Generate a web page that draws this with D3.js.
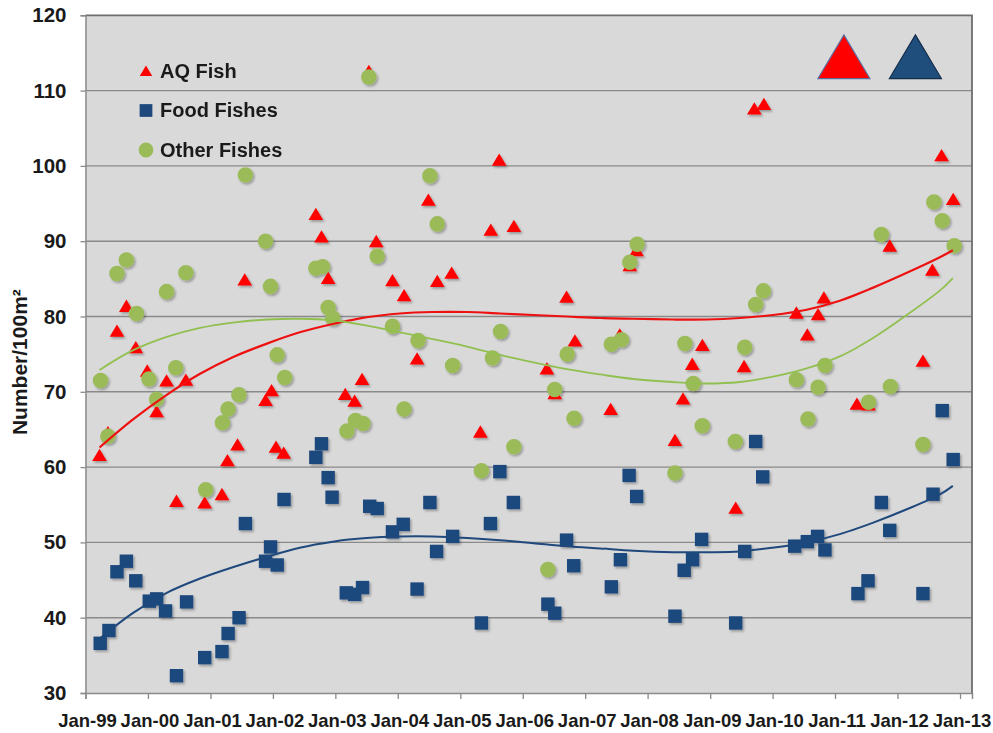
<!DOCTYPE html>
<html>
<head>
<meta charset="utf-8">
<script src="https://cdn.jsdelivr.net/npm/d3@7/dist/d3.min.js"></script>
<style>
  html, body { margin: 0; padding: 0; background: #ffffff; }
  svg { display: block; }
  text { font-family: "Liberation Sans", Arial, sans-serif; font-weight: bold; fill: #1a1a1a; }
</style>
</head>
<body>
<svg id="chart" width="993" height="733"></svg>
<script>
// ---------------- DATA ----------------
const seriesNames = ["AQ Fish", "Food Fishes", "Other Fishes"];

const aqDates = ["1999-03-24","1999-05-12","1999-07-04","1999-08-28","1999-10-22","1999-12-28","2000-02-21","2000-04-19","2000-06-16","2000-08-10","2000-11-28","2001-03-09","2001-04-10","2001-06-08","2001-07-20","2001-11-19","2001-12-24","2002-01-19","2002-03-05","2002-09-09","2002-10-12","2002-11-20","2003-02-28","2003-04-24","2003-06-06","2003-07-16","2003-08-28","2003-12-01","2004-02-07","2004-04-23","2004-06-28","2004-08-19","2004-11-11","2005-04-28","2005-06-28","2005-08-16","2005-11-10","2006-05-22","2006-07-07","2006-09-14","2006-11-02","2007-05-30","2007-07-22","2007-09-19","2007-10-28","2008-06-09","2008-07-26","2008-09-18","2008-11-16","2009-05-30","2009-07-18","2009-09-16","2009-11-11","2010-05-20","2010-07-23","2010-09-24","2010-10-28","2011-05-09","2011-07-16","2011-11-17","2012-05-29","2012-07-23","2012-09-15","2012-11-22"];
const aqValues = [61.6,64.6,78.1,81.4,75.9,72.8,67.4,71.5,55.5,71.6,55.3,56.4,60.9,63.0,84.9,68.9,70.2,62.7,61.9,93.6,90.6,85.1,69.7,68.8,71.7,112.6,90.0,84.8,82.8,74.4,95.5,84.7,85.8,64.7,91.5,100.8,92.0,73.1,69.8,82.6,76.8,67.7,77.6,86.8,88.8,63.6,69.1,73.7,76.2,54.6,73.4,107.6,108.2,80.5,77.6,80.3,82.5,68.4,68.3,89.4,74.1,86.2,101.4,95.6];

const foodDates = ["1999-03-28","1999-05-18","1999-07-04","1999-08-28","1999-10-22","2000-01-09","2000-02-21","2000-04-13","2000-06-16","2000-08-14","2000-11-28","2001-03-09","2001-04-14","2001-06-17","2001-07-24","2001-11-19","2001-12-18","2002-01-26","2002-03-07","2002-09-09","2002-10-12","2002-11-20","2002-12-13","2003-03-06","2003-04-24","2003-06-09","2003-07-21","2003-09-03","2003-12-01","2004-02-02","2004-04-23","2004-07-07","2004-08-15","2004-11-17","2005-05-04","2005-06-26","2005-08-20","2005-11-07","2006-05-28","2006-07-07","2006-09-14","2006-10-26","2007-06-03","2007-07-26","2007-09-15","2007-10-29","2008-06-09","2008-08-02","2008-09-20","2008-11-12","2009-05-30","2009-07-22","2009-09-24","2009-11-04","2010-05-10","2010-07-23","2010-09-21","2010-11-03","2011-05-15","2011-07-13","2011-09-29","2011-11-17","2012-05-29","2012-07-27","2012-09-19","2012-11-22"];
const foodValues = [36.6,38.3,46.1,47.5,44.9,42.2,42.5,40.9,32.3,42.1,34.7,35.5,37.9,40.0,52.5,47.5,49.4,47.0,55.7,61.3,63.1,58.6,56.0,43.3,43.1,44.0,54.8,54.5,51.4,52.4,43.8,55.3,48.8,50.8,39.3,52.5,59.4,55.3,41.8,40.6,50.3,46.9,44.1,47.7,58.9,56.1,40.2,46.3,47.7,50.4,39.3,48.8,63.4,58.7,49.5,50.1,50.8,49.0,43.2,44.9,55.3,51.6,43.2,56.4,67.5,61.0];

const otherDates = ["1999-03-30","1999-05-12","1999-07-04","1999-08-28","1999-10-26","2000-01-07","2000-02-21","2000-04-19","2000-06-12","2000-08-10","2000-12-04","2001-03-12","2001-04-14","2001-06-16","2001-07-24","2001-11-19","2001-12-18","2002-01-26","2002-03-11","2002-09-09","2002-10-18","2002-11-20","2002-12-17","2003-03-10","2003-04-29","2003-06-12","2003-07-16","2003-09-03","2003-12-01","2004-02-07","2004-04-29","2004-07-07","2004-08-19","2004-11-17","2005-05-04","2005-07-08","2005-08-24","2005-11-10","2006-05-28","2006-07-07","2006-09-18","2006-10-28","2007-06-03","2007-08-01","2007-09-19","2007-11-01","2008-06-09","2008-08-06","2008-09-24","2008-11-16","2009-05-28","2009-07-22","2009-09-24","2009-11-08","2010-05-20","2010-07-27","2010-09-24","2010-11-03","2011-07-16","2011-09-29","2011-11-21","2012-05-29","2012-08-01","2012-09-19","2012-11-28"];
const otherValues = [71.5,64.1,85.7,87.5,80.4,71.7,69.0,83.3,73.2,85.8,57.0,65.9,67.7,69.6,98.8,90.0,84.0,74.9,71.9,86.4,86.6,81.2,79.8,64.8,66.2,65.8,111.8,88.0,78.7,67.7,76.8,98.7,92.3,73.5,59.5,74.5,78.0,62.7,46.4,70.3,75.0,66.5,76.3,76.9,87.2,89.6,59.2,76.4,71.1,65.5,63.4,75.9,81.6,83.4,71.6,66.4,70.6,73.5,68.6,90.9,70.7,63.0,95.2,92.7,89.4];

// Trend lines (3rd-order polynomial fits)
const trendDates = ["1999-03-24","1999-10-04","2000-04-20","2000-11-01","2001-05-11","2001-11-27","2002-06-07","2002-12-17","2003-07-03","2004-01-13","2004-07-23","2005-02-09","2005-08-20","2006-03-05","2006-09-16","2007-03-30","2007-10-10","2008-05-27","2008-12-13","2009-06-23","2010-01-03","2010-07-19","2011-01-29","2011-08-09","2012-02-25","2012-09-08","2012-11-20"];
const aqTrend    = [62.6,66.3,69.6,72.4,74.6,76.4,77.9,79.0,79.9,80.4,80.6,80.6,80.4,80.2,80.0,79.8,79.7,79.6,79.6,79.8,80.2,80.9,82.1,83.8,85.8,87.9,88.8];
const foodTrend  = [37.2,40.6,43.3,45.2,46.7,48.1,49.3,50.1,50.6,50.8,50.8,50.6,50.3,49.9,49.5,49.2,48.9,48.7,48.7,48.8,49.3,50.0,51.1,52.6,54.4,56.4,57.5];
const otherTrend = [72.9,75.5,77.3,78.5,79.2,79.6,79.7,79.5,78.8,77.9,77.0,76.0,74.9,73.9,73.0,72.3,71.7,71.3,71.1,71.3,72.0,73.1,74.7,77.1,80.2,83.5,85.1];

const yTicks = [30,40,50,60,70,80,90,100,110,120];
const xTickDates = ["1999-01-01","2000-01-01","2001-01-01","2002-01-01","2003-01-01","2004-01-01","2005-01-01","2006-01-01","2007-01-01","2008-01-01","2009-01-01","2010-01-01","2011-01-01","2012-01-01","2013-01-01"];
const xDomain = ["1999-01-01","2013-03-12"];
const yTitle = "Number/100m\u00B2";

// ---------------- DRAW ----------------
const parse = d3.timeParse("%Y-%m-%d");
const fmt = d3.timeFormat("%b-%y");
const svg = d3.select("#chart");

const plot = {left: 85.5, right: 972, top: 15.3, bottom: 693};
const x = d3.scaleTime().domain(xDomain.map(parse)).range([plot.left, plot.right]);
const y = d3.scaleLinear().domain([30,120]).range([plot.bottom, plot.top]);

const colors = {aq: "#ff0000", food: "#1f497d", other: "#9bbb59"};

const defs = svg.append("defs");
const f = defs.append("filter").attr("id","shadow").attr("x","-50%").attr("y","-50%").attr("width","200%").attr("height","200%");
f.append("feDropShadow").attr("dx",1.5).attr("dy",1.8).attr("stdDeviation",1.1)
  .attr("flood-color","#000").attr("flood-opacity",0.3);

// plot area background
svg.append("rect")
  .attr("x", plot.left).attr("y", plot.top)
  .attr("width", plot.right - plot.left).attr("height", plot.bottom - plot.top)
  .attr("fill", "#d9d9d9");

// gridlines
svg.append("g")
  .selectAll("line").data(yTicks.slice(1, -1)).join("line")
  .attr("x1", plot.left).attr("x2", plot.right)
  .attr("y1", d => y(d)).attr("y2", d => y(d))
  .attr("stroke", "#8a8a8a").attr("stroke-width", 1.4);

// border (top & right darker)
svg.append("path")
  .attr("d", `M${plot.left},${plot.top}H${plot.right}V${plot.bottom}`)
  .attr("fill","none").attr("stroke","#6e6e6e").attr("stroke-width",1.8);

// Y axis
const yAxis = d3.axisLeft(y).tickValues(yTicks).tickSize(5).tickPadding(14).tickFormat(d3.format("d"));
const gy = svg.append("g").attr("transform", `translate(${plot.left},0)`).call(yAxis);
gy.select(".domain").attr("stroke","#8a8a8a").attr("stroke-width",1.5);
gy.selectAll(".tick line").attr("stroke","#8a8a8a").attr("stroke-width",1.3);
gy.selectAll(".tick text").attr("font-size", 20.5).attr("fill","#1a1a1a")
  .attr("font-family", '"Liberation Sans", Arial, sans-serif').attr("font-weight","bold");

// X axis
const xAxis = d3.axisBottom(x).tickValues(xTickDates.map(parse)).tickSize(6).tickPadding(15).tickFormat(fmt);
const gx = svg.append("g").attr("transform", `translate(0,${plot.bottom})`).call(xAxis);
gx.select(".domain").attr("stroke","#8a8a8a").attr("stroke-width",1.5);
gx.selectAll(".tick line").attr("stroke","#8a8a8a").attr("stroke-width",1.3);
gx.selectAll(".tick text").attr("font-size", 18.5).attr("fill","#1a1a1a")
  .attr("font-family", '"Liberation Sans", Arial, sans-serif').attr("font-weight","bold")
  .attr("dx", 1.5);

// Y title
svg.append("text")
  .attr("transform", `translate(27,${(plot.top + plot.bottom)/2 + 8}) rotate(-90)`)
  .attr("text-anchor","middle")
  .attr("font-size", 21)
  .text(yTitle);

// custom triangle symbol (Excel-like)
const triType = { draw(ctx, size) { const w = Math.sqrt(size); ctx.moveTo(0, -w*0.45); ctx.lineTo(w*0.52, w*0.42); ctx.lineTo(-w*0.52, w*0.42); ctx.closePath(); } };
const triPath = d3.symbol().type(triType).size(200)();
const sqPath = d3.symbol().type(d3.symbolSquare).size(180)();
const circPath = d3.symbol().type(d3.symbolCircle).size(190)();

function zip(dates, vals) { return dates.map((d,i) => ({date: parse(d), value: vals[i]})); }

const markers = svg.append("g").attr("filter","url(#shadow)");
function drawSeries(data, path, color) {
  markers.append("g").selectAll("path").data(data).join("path")
    .attr("d", path)
    .attr("transform", d => `translate(${x(d.date)},${y(d.value)})`)
    .attr("fill", color);
}
drawSeries(zip(aqDates, aqValues), triPath, colors.aq);
drawSeries(zip(foodDates, foodValues), sqPath, colors.food);
drawSeries(zip(otherDates, otherValues), circPath, colors.other);

// trend lines
const line = d3.line().x(d => x(d.date)).y(d => y(d.value)).curve(d3.curveCatmullRom.alpha(0.5));
function drawTrend(vals, color, w) {
  svg.append("path").datum(zip(trendDates, vals))
    .attr("d", line).attr("fill","none").attr("stroke", color).attr("stroke-width", w);
}
drawTrend(aqTrend, "#ee1111", 2.2);
drawTrend(otherTrend, "#92c050", 1.8);
drawTrend(foodTrend, "#1f497d", 2.0);

// legend
const legendItems = [
  {name: seriesNames[0], path: triPath, color: colors.aq},
  {name: seriesNames[1], path: sqPath, color: colors.food},
  {name: seriesNames[2], path: circPath, color: colors.other}
];
const lg = svg.append("g").attr("transform", "translate(146,71)");
const li = lg.selectAll("g").data(legendItems).join("g")
  .attr("transform", (d,i) => `translate(0,${i*39.5})`);
li.append("path").attr("d", d => d.path).attr("fill", d => d.color)
  .attr("transform", (d,i) => i === 0 ? "scale(0.85)" : "scale(0.95)");
li.append("text").attr("x", 14).attr("y", 6.5).attr("font-size", 20).text(d => d.name);

// decorative triangles (top right)
const bigTri = { draw(ctx, size) { const w = Math.sqrt(size); ctx.moveTo(0, -w*0.42); ctx.lineTo(w*0.5, w*0.42); ctx.lineTo(-w*0.5, w*0.42); ctx.closePath(); } };
const bigPath = d3.symbol().type(bigTri).size(52*52)();
const decoY = y(114.5);
svg.append("path").attr("d", bigPath)
  .attr("transform", `translate(${x(parse("2011-02-22"))},${decoY})`)
  .attr("fill", "#ff0000").attr("stroke", "#5a6fa0").attr("stroke-width", 1.2);
svg.append("path").attr("d", bigPath)
  .attr("transform", `translate(${x(parse("2012-04-15"))},${decoY})`)
  .attr("fill", "#1f4e7d").attr("stroke", "#122c4a").attr("stroke-width", 1.2);
</script>
</body>
</html>
